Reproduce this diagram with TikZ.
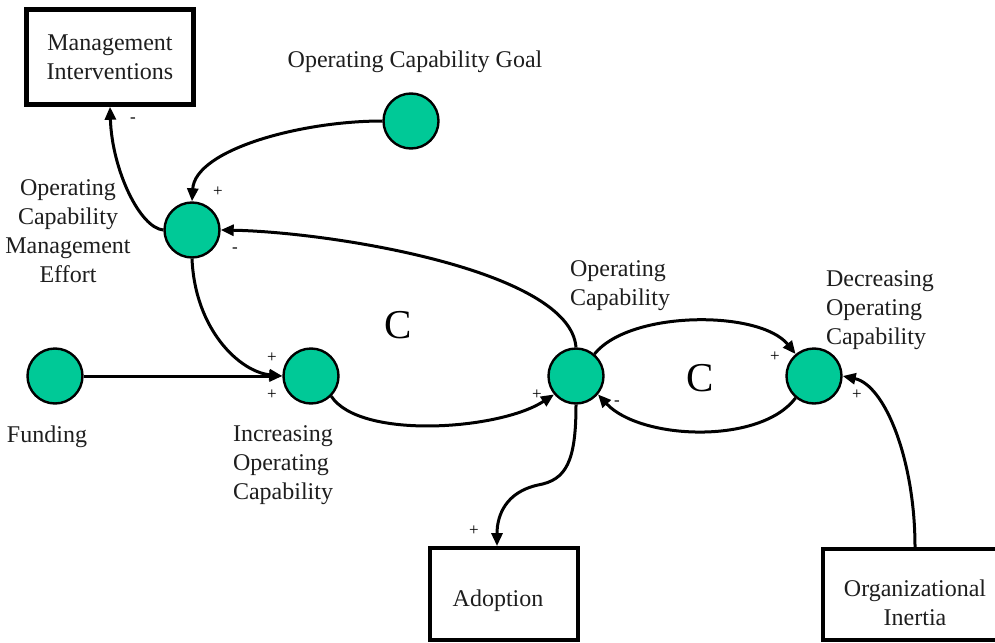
\documentclass[tikz,border=0pt]{standalone}
\usepackage{fontspec}
\setmainfont{Liberation Serif}
\usetikzlibrary{arrows.meta}
\definecolor{vargreen}{RGB}{0,201,151}
\definecolor{txt}{RGB}{30,30,30}
\tikzset{
  var/.style={circle, draw, line width=2.4pt, fill=vargreen, minimum size=55pt, inner sep=0pt},
  box/.style={draw, line width=3.8pt, align=center, text=txt, font=\fontsize{24}{29}\selectfont, inner sep=0pt},
  lbl/.style={align=center, text=txt, font=\fontsize{24}{29}\selectfont, inner sep=0pt},
  sgn/.style={font=\fontsize{17}{17}\selectfont, inner sep=0pt},
  loop/.style={font=\fontsize{41}{41}\selectfont, inner sep=0pt},
  link/.style={line width=3pt, -{Triangle[length=13pt,width=11pt]}}
}
\begin{document}
\begin{tikzpicture}[x=1pt,y=-1pt]
\clip (0,0) rectangle (995,642);
\fill[white] (0,0) rectangle (995,642);
% boxes
\node[box, line width=4.5pt, minimum width=167pt, minimum height=95pt] (mi) at (110,57) {Management\\Interventions};
\node[box, minimum width=148pt, minimum height=92pt] (adop) at (504,594) {};
\node[lbl] (adopt) at (498,601) {Adoption};
\node[box, minimum width=200pt, minimum height=91pt] (org) at (923,594.5) {};
\node[lbl] (orgt) at (915,603) {Organizational\\Inertia};
% variables
\node[var] (ocg) at (411,121) {};
\node[var] (ocme) at (192,230) {};
\node[var] (fund) at (55,376) {};
\node[var] (inc) at (311,376) {};
\node[var] (oc) at (576,376) {};
\node[var] (dec) at (814,376) {};
% labels
\node[lbl] (ocgl) at (415,62) {Operating Capability Goal};
\node[lbl] (ocmel) at (68,231) {Operating\\Capability\\Management\\Effort};
\node[lbl] (fundl) at (47,437) {Funding};
\node[lbl, align=left] (incl) at (283,465) {Increasing\\Operating\\Capability};
\node[lbl, align=left] (ocl) at (620,286) {Operating\\Capability};
\node[lbl, align=left] (decl) at (880,310) {Decreasing\\Operating\\Capability};
\node[loop] (c1) at (398,325) {C};
\node[loop] (c2) at (700,378) {C};
% connectors
\draw[link] (ocme.west) .. controls (140,228) and (112,170) .. (mi.south);
\draw[link] (ocg.west) .. controls (300,121) and (195,150) .. (ocme.north);
\draw[link] (oc.north) .. controls (570,270) and (330,232) .. (ocme.east);
\draw[link] (ocme.south) .. controls (195,330) and (240,372) .. (inc.west);
\draw[link] (fund.east) -- (inc.west);
\draw[link] (inc.-45) .. controls (360,440) and (500,430) .. (oc.220);
\draw[link] (oc.50) .. controls (630,310) and (760,310) .. (dec.130);
\draw[link] (dec.230) .. controls (760,445) and (640,440) .. (oc.320);
\draw[link] (oc.south) .. controls (576,462) and (566,480) .. (538,485) .. controls (506,492) and (497,515) .. ([xshift=-7pt]adop.north);
\draw[link] ([xshift=-8pt]org.north) .. controls (915,460) and (885,385) .. (dec.east);
% signs
\node[sgn] (s1) at (133,120) {-};
\node[sgn] (s2) at (218,192) {+};
\node[sgn] (s3) at (235,250) {-};
\node[sgn] (s4) at (272,358) {+};
\node[sgn] (s5) at (272,395) {+};
\node[sgn] (s6) at (537,395) {+};
\node[sgn] (s7) at (617,403) {-};
\node[sgn] (s8) at (775,357) {+};
\node[sgn] (s9) at (857,395) {+};
\node[sgn] (s10) at (474,531) {+};
\end{tikzpicture}
\end{document}
